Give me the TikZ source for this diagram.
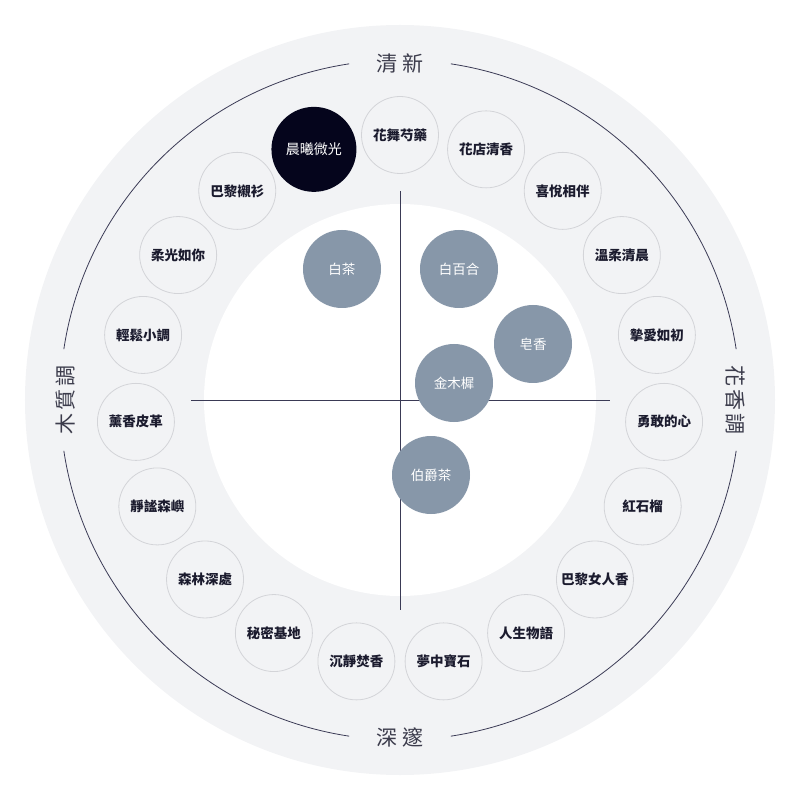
\documentclass[tikz,border=0pt]{standalone}
\usepackage{fontspec}
\setmainfont{Noto Sans CJK TC}
\usepackage{xcolor}
\definecolor{ringgray}{HTML}{F2F3F5}
\definecolor{edgegray}{HTML}{D3D4D8}
\definecolor{inkblue}{HTML}{1B1B2E}
\definecolor{nightblue}{HTML}{05051C}
\definecolor{slateblue}{HTML}{8797A9}
\definecolor{axisline}{HTML}{3A3A55}
\definecolor{axisgray}{HTML}{3C3C4C}

\begin{document}
\begin{tikzpicture}[x=1pt,y=1pt,
    scent/.style = {draw=edgegray, line width=0.8pt, fill=ringgray, circle, minimum size=77pt, inner sep=0pt,
      text=inkblue, font=\fontsize{13.5}{14}\selectfont\bfseries},
    chosen/.style = {scent, draw=none, fill=nightblue, minimum size=85pt, text=white, font=\fontsize{14}{14}\selectfont},
    note/.style = {circle, fill=slateblue, minimum size=78pt, inner sep=0pt, text=white,
      font=\fontsize{13.5}{14}\selectfont},
    axislabel/.style = {text=axisgray, font=\fontsize{21}{22}\selectfont}]
      \useasboundingbox (-400,-400) rectangle (400,400);
      \fill[ringgray] (0,0) circle (375);
      \fill[white] (0,0) circle (196);

      % outer ring arcs
      \draw[axisline, line width=0.8pt] (8.6:340) arc (8.6:81.4:340);
      \draw[axisline, line width=0.8pt] (98.6:340) arc (98.6:171.4:340);
      \draw[axisline, line width=0.8pt] (188.6:340) arc (188.6:261.4:340);
      \draw[axisline, line width=0.8pt] (278.6:340) arc (278.6:351.4:340);

      \node[axislabel] (fresh) at (0,336) {清\hspace{5pt}新};
      \node[axislabel] (deep) at (0,-337) {深\hspace{5pt}邃};
      \node[axislabel, rotate=90] (wood) at (-334,0) {木\hspace{3pt}質\hspace{3pt}調};
      \node[axislabel, rotate=-90] (floral) at (335,0) {花\hspace{3pt}香\hspace{3pt}調};

      % axes
      \coordinate (top) at (0,209);
      \coordinate (bottom) at (0,-210);
      \coordinate (left) at (-209,0);
      \coordinate (right) at (210,0);
      \draw[axisline, line width=0.8pt] (top) -- (bottom);
      \draw[axisline, line width=0.8pt] (left) -- (right);

      % ring of scents
      \node[scent] at (90:265) (s0) {花舞芍藥};
      \node[scent] at (71.05:265) (s1) {花店清香};
      \node[scent] at (52.11:265) (s2) {喜悅相伴};
      \node[scent] at (33.16:265) (s3) {溫柔清晨};
      \node[scent] at (14.21:265) (s4) {摯愛如初};
      \node[scent] at (-4.74:265) (s5) {勇敢的心};
      \node[scent] at (-23.68:265) (s6) {紅石榴};
      \node[scent] at (-42.63:265) (s7) {巴黎女人香};
      \node[scent] at (-61.58:265) (s8) {人生物語};
      \node[scent] at (-80.53:265) (s9) {夢中寶石};
      \node[scent] at (-99.47:265) (s10) {沉靜焚香};
      \node[scent] at (-118.42:265) (s11) {秘密基地};
      \node[scent] at (-137.37:265) (s12) {森林深處};
      \node[scent] at (-156.32:265) (s13) {靜謐森嶼};
      \node[scent] at (-175.26:265) (s14) {薰香皮革};
      \node[scent] at (165.79:265) (s15) {輕鬆小調};
      \node[scent] at (146.84:265) (s16) {柔光如你};
      \node[scent] at (127.89:265) (s17) {巴黎襯衫};
      \node[chosen] at (108.95:265) (s18) {晨曦微光};

      % notes
      \node[note] at (-58,131) (n1) {白茶};
      \node[note] at (59,131) (n2) {白百合};
      \node[note] at (133,56) (n3) {皂香};
      \node[note] at (54,17) (n4) {金木樨};
      \node[note] at (31,-75) (n5) {伯爵茶};
    \end{tikzpicture}
\end{document}
